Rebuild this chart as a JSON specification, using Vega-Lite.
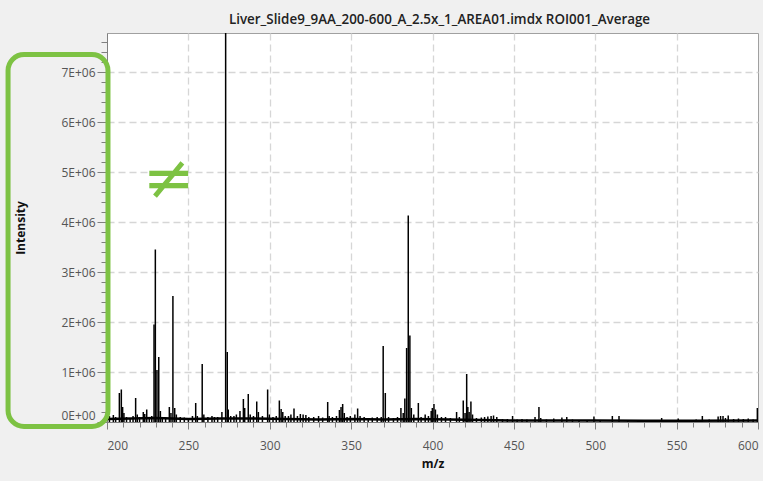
{
  "$schema": "https://vega.github.io/schema/vega-lite/v6.json",
  "width": 651,
  "height": 389,
  "autosize": "none",
  "padding": {"left": 107, "top": 33, "right": 5, "bottom": 59},
  "background": "#f0f0f0",
  "config": {
    "view": {"fill": "white", "stroke": "#a0a0a0", "strokeWidth": 1},
    "font": "Open Sans"
  },
  "title": {
    "text": "Liver_Slide9_9AA_200-600_A_2.5x_1_AREA01.imdx ROI001_Average",
    "fontSize": 13.4,
    "fontWeight": 600,
    "color": "#222222",
    "font": "Open Sans",
    "frame": "group",
    "anchor": "middle",
    "dx": 7,
    "offset": 7
  },
  "datasets": {
    "baseline": [
      {"mz": 200, "intensity": 60000}, {"mz": 215, "intensity": 70000}, {"mz": 230, "intensity": 80000},
      {"mz": 250, "intensity": 60000}, {"mz": 270, "intensity": 70000}, {"mz": 290, "intensity": 70000},
      {"mz": 310, "intensity": 60000}, {"mz": 330, "intensity": 50000}, {"mz": 350, "intensity": 60000},
      {"mz": 370, "intensity": 50000}, {"mz": 390, "intensity": 60000}, {"mz": 410, "intensity": 50000},
      {"mz": 430, "intensity": 40000}, {"mz": 450, "intensity": 30000}, {"mz": 470, "intensity": 30000},
      {"mz": 500, "intensity": 30000}, {"mz": 530, "intensity": 25000}, {"mz": 560, "intensity": 25000},
      {"mz": 600, "intensity": 30000}
    ],
    "peaks": [
      {"mz": 201.5, "intensity": 120000}, {"mz": 203.9, "intensity": 140000}, {"mz": 205.3, "intensity": 100000},
      {"mz": 207.6, "intensity": 580000}, {"mz": 208.8, "intensity": 650000}, {"mz": 209.6, "intensity": 300000},
      {"mz": 210.4, "intensity": 180000}, {"mz": 212.0, "intensity": 100000}, {"mz": 214.2, "intensity": 80000},
      {"mz": 216.0, "intensity": 120000}, {"mz": 217.6, "intensity": 480000}, {"mz": 218.6, "intensity": 150000},
      {"mz": 220.0, "intensity": 100000}, {"mz": 222.3, "intensity": 200000}, {"mz": 223.2, "intensity": 160000},
      {"mz": 224.4, "intensity": 250000}, {"mz": 226.0, "intensity": 100000}, {"mz": 227.5, "intensity": 120000},
      {"mz": 228.9, "intensity": 1950000}, {"mz": 229.7, "intensity": 3450000}, {"mz": 230.7, "intensity": 1040000},
      {"mz": 231.8, "intensity": 1300000}, {"mz": 232.8, "intensity": 220000}, {"mz": 234.0, "intensity": 100000},
      {"mz": 236.0, "intensity": 90000}, {"mz": 238.3, "intensity": 300000}, {"mz": 239.3, "intensity": 180000},
      {"mz": 240.5, "intensity": 2520000}, {"mz": 241.6, "intensity": 280000}, {"mz": 242.6, "intensity": 150000},
      {"mz": 245.0, "intensity": 100000}, {"mz": 247.5, "intensity": 90000}, {"mz": 250.0, "intensity": 80000},
      {"mz": 252.5, "intensity": 120000}, {"mz": 254.5, "intensity": 380000}, {"mz": 255.5, "intensity": 120000},
      {"mz": 258.5, "intensity": 1160000}, {"mz": 259.5, "intensity": 150000}, {"mz": 262.0, "intensity": 100000},
      {"mz": 264.5, "intensity": 120000}, {"mz": 266.0, "intensity": 100000}, {"mz": 268.0, "intensity": 100000},
      {"mz": 270.6, "intensity": 200000}, {"mz": 272.9, "intensity": 8500000}, {"mz": 273.9, "intensity": 1400000},
      {"mz": 274.5, "intensity": 250000}, {"mz": 276.0, "intensity": 120000}, {"mz": 278.0, "intensity": 120000},
      {"mz": 279.5, "intensity": 150000}, {"mz": 281.7, "intensity": 220000}, {"mz": 283.8, "intensity": 460000},
      {"mz": 284.6, "intensity": 280000}, {"mz": 286.8, "intensity": 560000}, {"mz": 288.0, "intensity": 150000},
      {"mz": 290.0, "intensity": 120000}, {"mz": 292.0, "intensity": 410000}, {"mz": 293.0, "intensity": 200000},
      {"mz": 295.5, "intensity": 120000}, {"mz": 298.7, "intensity": 650000}, {"mz": 299.8, "intensity": 150000},
      {"mz": 302.0, "intensity": 100000}, {"mz": 304.0, "intensity": 120000}, {"mz": 305.9, "intensity": 430000},
      {"mz": 307.0, "intensity": 260000}, {"mz": 308.0, "intensity": 200000}, {"mz": 309.5, "intensity": 120000},
      {"mz": 311.5, "intensity": 120000}, {"mz": 313.0, "intensity": 150000}, {"mz": 314.9, "intensity": 270000},
      {"mz": 317.0, "intensity": 120000}, {"mz": 318.8, "intensity": 160000}, {"mz": 320.5, "intensity": 150000},
      {"mz": 322.2, "intensity": 140000}, {"mz": 324.0, "intensity": 100000}, {"mz": 327.0, "intensity": 100000},
      {"mz": 330.0, "intensity": 120000}, {"mz": 332.5, "intensity": 90000}, {"mz": 335.6, "intensity": 400000},
      {"mz": 336.5, "intensity": 120000}, {"mz": 338.5, "intensity": 100000}, {"mz": 341.0, "intensity": 120000},
      {"mz": 342.8, "intensity": 240000}, {"mz": 343.8, "intensity": 300000}, {"mz": 344.8, "intensity": 360000},
      {"mz": 345.8, "intensity": 180000}, {"mz": 347.5, "intensity": 100000}, {"mz": 349.5, "intensity": 120000},
      {"mz": 352.3, "intensity": 150000}, {"mz": 354.0, "intensity": 270000}, {"mz": 355.5, "intensity": 120000},
      {"mz": 358.0, "intensity": 100000}, {"mz": 360.5, "intensity": 80000}, {"mz": 363.0, "intensity": 90000},
      {"mz": 366.0, "intensity": 100000}, {"mz": 368.5, "intensity": 100000}, {"mz": 369.7, "intensity": 1520000},
      {"mz": 371.0, "intensity": 580000}, {"mz": 373.0, "intensity": 100000}, {"mz": 376.0, "intensity": 80000},
      {"mz": 378.5, "intensity": 100000}, {"mz": 380.6, "intensity": 280000}, {"mz": 382.0, "intensity": 180000},
      {"mz": 383.0, "intensity": 470000}, {"mz": 384.1, "intensity": 1480000}, {"mz": 385.1, "intensity": 4130000},
      {"mz": 386.1, "intensity": 1730000}, {"mz": 387.0, "intensity": 280000}, {"mz": 388.5, "intensity": 150000},
      {"mz": 391.3, "intensity": 380000}, {"mz": 393.0, "intensity": 100000}, {"mz": 395.5, "intensity": 150000},
      {"mz": 397.5, "intensity": 120000}, {"mz": 399.2, "intensity": 220000}, {"mz": 399.9, "intensity": 280000},
      {"mz": 400.9, "intensity": 360000}, {"mz": 401.8, "intensity": 250000}, {"mz": 403.0, "intensity": 150000},
      {"mz": 405.5, "intensity": 100000}, {"mz": 408.0, "intensity": 100000}, {"mz": 411.0, "intensity": 80000},
      {"mz": 414.8, "intensity": 200000}, {"mz": 416.5, "intensity": 100000}, {"mz": 418.9, "intensity": 430000},
      {"mz": 420.0, "intensity": 180000}, {"mz": 421.0, "intensity": 960000}, {"mz": 421.7, "intensity": 300000},
      {"mz": 422.5, "intensity": 200000}, {"mz": 423.6, "intensity": 410000}, {"mz": 424.6, "intensity": 150000},
      {"mz": 427.0, "intensity": 80000}, {"mz": 430.0, "intensity": 90000}, {"mz": 432.0, "intensity": 100000},
      {"mz": 434.0, "intensity": 110000}, {"mz": 436.0, "intensity": 120000}, {"mz": 437.5, "intensity": 130000},
      {"mz": 439.5, "intensity": 100000}, {"mz": 443.0, "intensity": 60000}, {"mz": 446.0, "intensity": 60000},
      {"mz": 449.2, "intensity": 120000}, {"mz": 452.0, "intensity": 50000}, {"mz": 455.0, "intensity": 60000},
      {"mz": 458.0, "intensity": 50000}, {"mz": 463.0, "intensity": 100000}, {"mz": 465.4, "intensity": 300000},
      {"mz": 466.5, "intensity": 80000}, {"mz": 470.0, "intensity": 50000}, {"mz": 474.5, "intensity": 70000},
      {"mz": 479.5, "intensity": 90000}, {"mz": 482.5, "intensity": 100000}, {"mz": 486.0, "intensity": 50000},
      {"mz": 490.0, "intensity": 40000}, {"mz": 495.0, "intensity": 40000}, {"mz": 499.2, "intensity": 110000},
      {"mz": 503.0, "intensity": 40000}, {"mz": 510.5, "intensity": 120000}, {"mz": 514.6, "intensity": 120000},
      {"mz": 520.0, "intensity": 40000}, {"mz": 527.0, "intensity": 40000}, {"mz": 533.0, "intensity": 40000},
      {"mz": 540.8, "intensity": 80000}, {"mz": 545.0, "intensity": 40000}, {"mz": 551.0, "intensity": 70000},
      {"mz": 557.0, "intensity": 40000}, {"mz": 562.0, "intensity": 50000}, {"mz": 565.8, "intensity": 120000},
      {"mz": 570.0, "intensity": 50000}, {"mz": 575.5, "intensity": 110000}, {"mz": 577.0, "intensity": 120000},
      {"mz": 578.5, "intensity": 120000}, {"mz": 580.0, "intensity": 80000}, {"mz": 581.7, "intensity": 130000},
      {"mz": 585.0, "intensity": 60000}, {"mz": 588.0, "intensity": 70000}, {"mz": 591.0, "intensity": 60000},
      {"mz": 594.0, "intensity": 70000}, {"mz": 597.0, "intensity": 50000}, {"mz": 599.6, "intensity": 280000}
    ],
    "box": [
      {"mz": 139.2, "mz2": 200.6, "intensity": 7350000, "intensity2": -90000}
    ],
    "symbol": [
      {"mz": 238.1, "intensity": 4850000, "label": "≠"}
    ]
  },
  "layer": [
    {
      "data": {"name": "baseline"},
      "mark": {"type": "line", "color": "black", "strokeWidth": 2.5, "clip": true},
      "encoding": {
        "x": {
          "field": "mz",
          "type": "quantitative",
          "scale": {"domain": [200, 600], "nice": false, "zero": false},
          "axis": {
            "title": "m/z",
            "values": [200,210,220,230,240,250,260,270,280,290,300,310,320,330,340,350,360,370,380,390,400,410,420,430,440,450,460,470,480,490,500,510,520,530,540,550,560,570,580,590,600],
            "tickCount": 200,
            "labelExpr": "datum.value % 50 === 0 ? datum.label : ''",
            "format": "d",
            "labelFlush": true,
            "labelOverlap": false,
            "grid": true,
            "gridColor": {"condition": {"test": "datum.value % 50 === 0 && datum.value > 200 && datum.value < 600", "value": "#d6d6d6"}, "value": "transparent"},
            "gridDash": [7, 4],
            "gridWidth": 1.3,
            "tickSize": {"condition": {"test": "datum.value % 50 === 0", "value": 7}, "value": 5},
            "tickColor": "#808080",
            "domainColor": "#808080",
            "labelColor": "#555555",
            "labelFontSize": 12,
            "labelFont": "Open Sans",
            "labelPadding": 11,
            "titleFont": "Open Sans",
            "titleFontWeight": "bold",
            "titleFontSize": 12,
            "titleColor": "#111111",
            "titlePadding": 7
          }
        },
        "y": {
          "field": "intensity",
          "type": "quantitative",
          "scale": {"domain": [0, 7780000], "nice": false, "zero": false},
          "axis": {
            "title": "Intensity",
            "values": [0,200000,400000,600000,800000,1000000,1200000,1400000,1600000,1800000,2000000,2200000,2400000,2600000,2800000,3000000,3200000,3400000,3600000,3800000,4000000,4200000,4400000,4600000,4800000,5000000,5200000,5400000,5600000,5800000,6000000,6200000,6400000,6600000,6800000,7000000,7200000,7400000,7600000],
            "tickCount": 200,
            "labelExpr": "datum.value % 1000000 === 0 ? (datum.value === 0 ? '0E+00' : format(datum.value / 1000000, 'd') + 'E+06') : ''",
            "labelFlush": true,
            "labelOverlap": false,
            "grid": true,
            "gridColor": {"condition": {"test": "datum.value % 1000000 === 0 && datum.value > 0", "value": "#d6d6d6"}, "value": "transparent"},
            "gridDash": [7, 4],
            "gridWidth": 1.3,
            "tickSize": {"condition": {"test": "datum.value % 1000000 === 0", "value": 10}, "value": 6},
            "tickColor": "#808080",
            "domainColor": "#808080",
            "labelColor": "#555555",
            "labelFontSize": 12,
            "labelFont": "Open Sans",
            "labelPadding": 2,
            "titleFont": "Open Sans",
            "titleFontWeight": "bold",
            "titleFontSize": 12,
            "titleColor": "#111111",
            "titlePadding": 33
          }
        }
      }
    },
    {
      "data": {"name": "peaks"},
      "mark": {"type": "rule", "color": "black", "strokeWidth": 1.5, "clip": true},
      "encoding": {
        "x": {"field": "mz", "type": "quantitative", "title": "m/z"},
        "y": {"field": "intensity", "type": "quantitative", "title": "Intensity"},
        "y2": {"datum": 0}
      }
    },
    {
      "data": {"name": "box"},
      "mark": {"type": "rect", "filled": false, "color": "#7dc243", "strokeWidth": 5, "cornerRadius": 16, "clip": false},
      "encoding": {
        "x": {"field": "mz", "type": "quantitative", "title": "m/z"},
        "x2": {"field": "mz2"},
        "y": {"field": "intensity", "type": "quantitative", "title": "Intensity"},
        "y2": {"field": "intensity2"}
      }
    },
    {
      "data": {"name": "symbol"},
      "mark": {"type": "text", "color": "#7dc243", "font": "DejaVu Sans", "fontSize": 62, "align": "center", "baseline": "middle", "clip": false},
      "encoding": {
        "x": {"field": "mz", "type": "quantitative", "title": "m/z"},
        "y": {"field": "intensity", "type": "quantitative", "title": "Intensity"},
        "text": {"field": "label"}
      }
    }
  ]
}
